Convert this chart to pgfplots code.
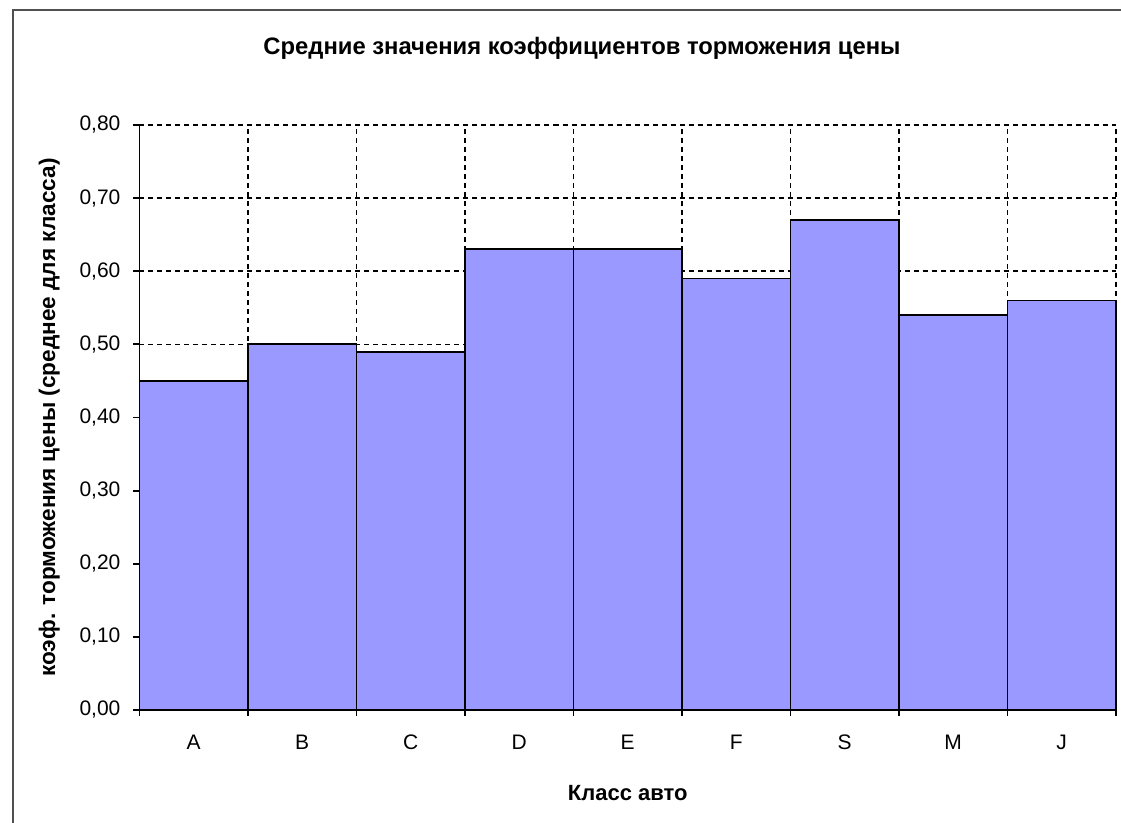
\documentclass[border=0pt]{standalone}
\usepackage{pgfplots}
\pgfplotsset{compat=1.18}
\usepackage{fontspec}
\setmainfont{Liberation Sans}
\definecolor{barfill}{HTML}{9999FF}
\definecolor{frame}{HTML}{505050}
\begin{document}
\begin{tikzpicture}[x=1pt,y=1pt]
\useasboundingbox (0,0) rectangle (560.5,411.5);
\draw[frame, line width=1.2pt] (6.5,-5) -- (6.5,406.5) -- (570,406.5);
\node[font=\bfseries\fontsize{11.9}{13}\selectfont] at (291,387.5) {Средние значения коэффициентов торможения цены};
\begin{axis}[
  anchor=south west, at={(69.75pt,56.5pt)},
  width=488.25pt, height=292.5pt, scale only axis,
  xmin=-0.5, xmax=8.5, ymin=0, ymax=0.8,
  axis x line*=bottom, axis y line*=left,
  axis line style={black, line width=0.9pt, -},
  xtick={-0.5,0.5,...,8.5}, xticklabels={},
  extra x ticks={0,1,2,3,4,5,6,7,8},
  extra x tick labels={A,B,C,D,E,F,S,M,J},
  extra x tick style={grid=none, major tick length=0pt},
  ytick={0,0.1,...,0.8},
  xmajorgrids, ymajorgrids,
  grid style={black, line width=0.75pt, dash pattern=on 2.5pt off 2pt},
  tick align=outside, major tick length=3pt,
  tick style={black, line width=0.9pt},
  yticklabel style={xshift=-3pt, /pgf/number format/.cd, fixed, fixed zerofill, precision=2, use comma, assume math mode=true},
  ticklabel style={font=\fontsize{10.5}{12}\selectfont},
  xticklabel style={yshift=-9pt, text height=1.4ex, text depth=0.2ex},
  xlabel={Класс авто},
  ylabel={коэф. торможения цены (среднее для класса)},
  label style={font=\bfseries\fontsize{11}{12}\selectfont},
  xlabel style={at={(0.5,0)}, yshift=-34pt},
  ylabel={коэф. торможения цены (среднее для класса)},
  ylabel style={font=\bfseries\fontsize{11.3}{12}\selectfont, yshift=3pt},
  clip=false,
]
\addplot[ybar, bar width=1, fill=barfill, draw=black, line width=0.9pt] coordinates {
(0,0.45) (1,0.50) (2,0.49) (3,0.63) (4,0.63) (5,0.59) (6,0.67) (7,0.54) (8,0.56)};
\end{axis}
\end{tikzpicture}
\end{document}
